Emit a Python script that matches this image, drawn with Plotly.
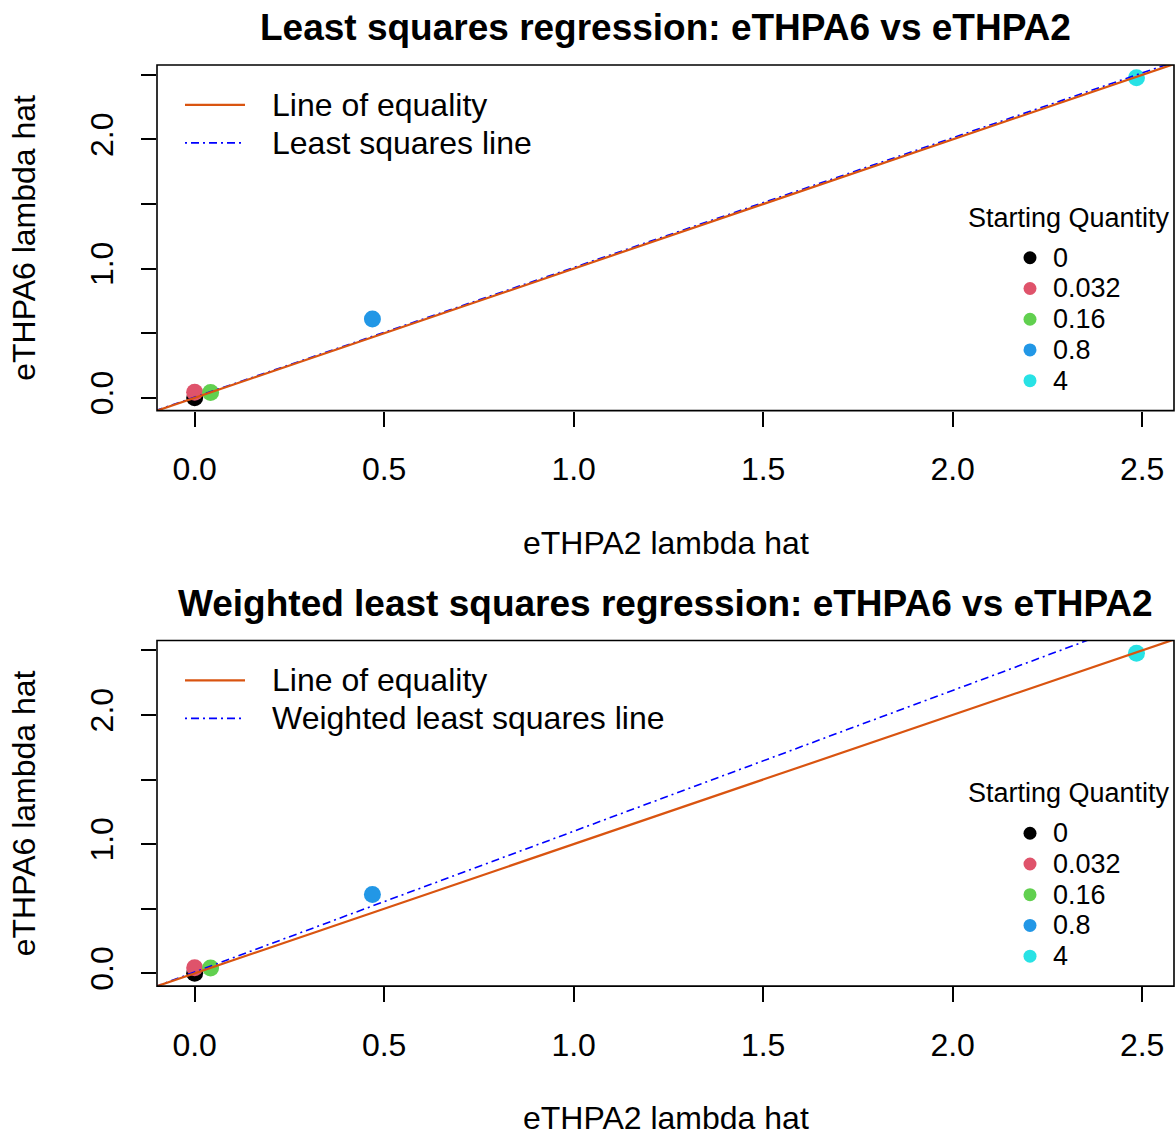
import plotly.graph_objects as go

# Estimated lambda hats per starting quantity
quantity_labels = ["0", "0.032", "0.16", "0.8", "4"]
ethpa2_lambda = [0.0, 0.0, 0.042, 0.469, 2.485]
ethpa6_lambda = [0.0, 0.044, 0.041, 0.610, 2.478]
point_colors = ["#000000", "#DF536B", "#61D04F", "#2297E6", "#28E2E5"]

# Fitted lines: (intercept, slope)
ls_fit = (0.005, 1.004)
wls_fit = (0.010, 1.090)

panel_titles = [
    "Least squares regression: eTHPA6 vs eTHPA2",
    "Weighted least squares regression: eTHPA6 vs eTHPA2",
]
fit_labels = ["Least squares line", "Weighted least squares line"]
fits = [ls_fit, wls_fit]

x_ticks = [0.0, 0.5, 1.0, 1.5, 2.0, 2.5]
x_ticktext = ["0.0", "0.5", "1.0", "1.5", "2.0", "2.5"]
y_ticks = [0.0, 0.5, 1.0, 1.5, 2.0, 2.5]
y_ticktext = ["0.0", "", "1.0", "", "2.0", ""]

W, H = 1175, 1137
H_LAYOUT = 1133  # vertical pixel scale used for positioning
FONT = "Liberation Sans, Arial, Helvetica, sans-serif"
EQ_COLOR = "#D95410"
FIT_COLOR = "#0000FF"
DASHDOT = "2px,4px,8px,4px"


def px(x):
    return x / W


def py(y):
    return 1 - y / H_LAYOUT


# pixel layout of the two panels: (left, right, top, bottom)
panels = [(157, 1174, 65, 411), (157, 1174, 641, 987)]

x_range = [-0.0994, 2.584]
y_range = [-0.0991, 2.577]
line_x = [-0.3, 2.8]

fig = go.Figure()
shapes = []
annotations = []

for i, (left, right, top, bottom) in enumerate(panels):
    ax = "" if i == 0 else str(i + 1)
    xref, yref = "x" + ax, "y" + ax

    # points, one trace per starting quantity
    for lab, xv, yv, col in zip(quantity_labels, ethpa2_lambda, ethpa6_lambda, point_colors):
        fig.add_trace(go.Scatter(
            x=[xv], y=[yv], mode="markers", name=lab,
            marker=dict(color=col, size=17, line=dict(width=0)),
            xaxis=xref, yaxis=yref, showlegend=False, cliponaxis=False,
        ))

    # fitted line and line of equality
    a, b = fits[i]
    fig.add_trace(go.Scatter(
        x=line_x, y=[a + b * v for v in line_x], mode="lines", name=fit_labels[i],
        line=dict(color=FIT_COLOR, width=1.6, dash=DASHDOT),
        xaxis=xref, yaxis=yref, showlegend=False,
    ))
    fig.add_trace(go.Scatter(
        x=line_x, y=line_x, mode="lines", name="Line of equality",
        line=dict(color=EQ_COLOR, width=2.2),
        xaxis=xref, yaxis=yref, showlegend=False,
    ))

    axis_common = dict(
        showgrid=False, zeroline=False, showline=False,
        ticks="outside", ticklen=15, tickwidth=1.5, tickcolor="black",
        tickfont=dict(family=FONT, size=32, color="black"),
    )
    fig.update_layout(**{
        "xaxis" + ax: dict(
            domain=[px(left), px(right)], range=x_range, anchor=yref,
            tickvals=x_ticks, ticktext=x_ticktext, ticklabelstandoff=15,
            **axis_common,
        ),
        "yaxis" + ax: dict(
            domain=[py(bottom), py(top)], range=y_range, anchor=xref,
            tickvals=y_ticks, ticktext=y_ticktext, tickangle=-90, ticklabelstandoff=15,
            **axis_common,
        ),
    })

    # plot box
    shapes.append(dict(type="rect", xref="paper", yref="paper",
                       x0=px(left), x1=px(right), y0=py(bottom), y1=py(top),
                       line=dict(color="black", width=1.6), layer="above"))

    cx = (left + right) / 2
    annotations.append(dict(text="<b>%s</b>" % panel_titles[i], x=px(cx), y=py(top - 37),
                            xref="paper", yref="paper", showarrow=False,
                            xanchor="center", yanchor="middle",
                            font=dict(family=FONT, size=37, color="black")))
    annotations.append(dict(text="eTHPA2 lambda hat", x=px(cx), y=py(bottom + 132),
                            xref="paper", yref="paper", showarrow=False,
                            xanchor="center", yanchor="middle",
                            font=dict(family=FONT, size=32, color="black")))
    annotations.append(dict(text="eTHPA6 lambda hat", x=px(24), y=py((top + bottom) / 2),
                            xref="paper", yref="paper", showarrow=False, textangle=-90,
                            xanchor="center", yanchor="middle",
                            font=dict(family=FONT, size=32, color="black")))

    # line legend (top left)
    line_rows = [("Line of equality", EQ_COLOR, "solid", 2.2),
                 (fit_labels[i], FIT_COLOR, DASHDOT, 1.6)]
    for k, (lab, col, dash, wd) in enumerate(line_rows):
        yy = top + 40 + 38 * k
        shapes.append(dict(type="line", xref="paper", yref="paper",
                           x0=px(185), x1=px(245), y0=py(yy), y1=py(yy),
                           line=dict(color=col, width=wd, dash=dash)))
        annotations.append(dict(text=lab, x=px(270), y=py(yy), xref="paper", yref="paper",
                                showarrow=False, xanchor="left", yanchor="middle",
                                font=dict(family=FONT, size=32, color="black")))

    # starting quantity legend (right)
    annotations.append(dict(text="Starting Quantity", x=px(1069), y=py(top + 153),
                            xref="paper", yref="paper", showarrow=False,
                            xanchor="center", yanchor="middle",
                            font=dict(family=FONT, size=27, color="black")))
    for k, (lab, col) in enumerate(zip(quantity_labels, point_colors)):
        yy = top + 193 + 30.75 * k
        r = 6.5
        shapes.append(dict(type="circle", xref="paper", yref="paper",
                           x0=px(1030 - r), x1=px(1030 + r), y0=py(yy + r), y1=py(yy - r),
                           fillcolor=col, line=dict(width=0)))
        annotations.append(dict(text=lab, x=px(1051), y=py(yy), xref="paper", yref="paper",
                                showarrow=False, xanchor="left", yanchor="middle",
                                font=dict(family=FONT, size=27, color="black")))

fig.update_layout(
    width=W, height=H,
    margin=dict(l=0, r=0, t=0, b=0),
    paper_bgcolor="white", plot_bgcolor="white",
    showlegend=False,
    shapes=shapes, annotations=annotations,
)

fig.write_html("out.html")
